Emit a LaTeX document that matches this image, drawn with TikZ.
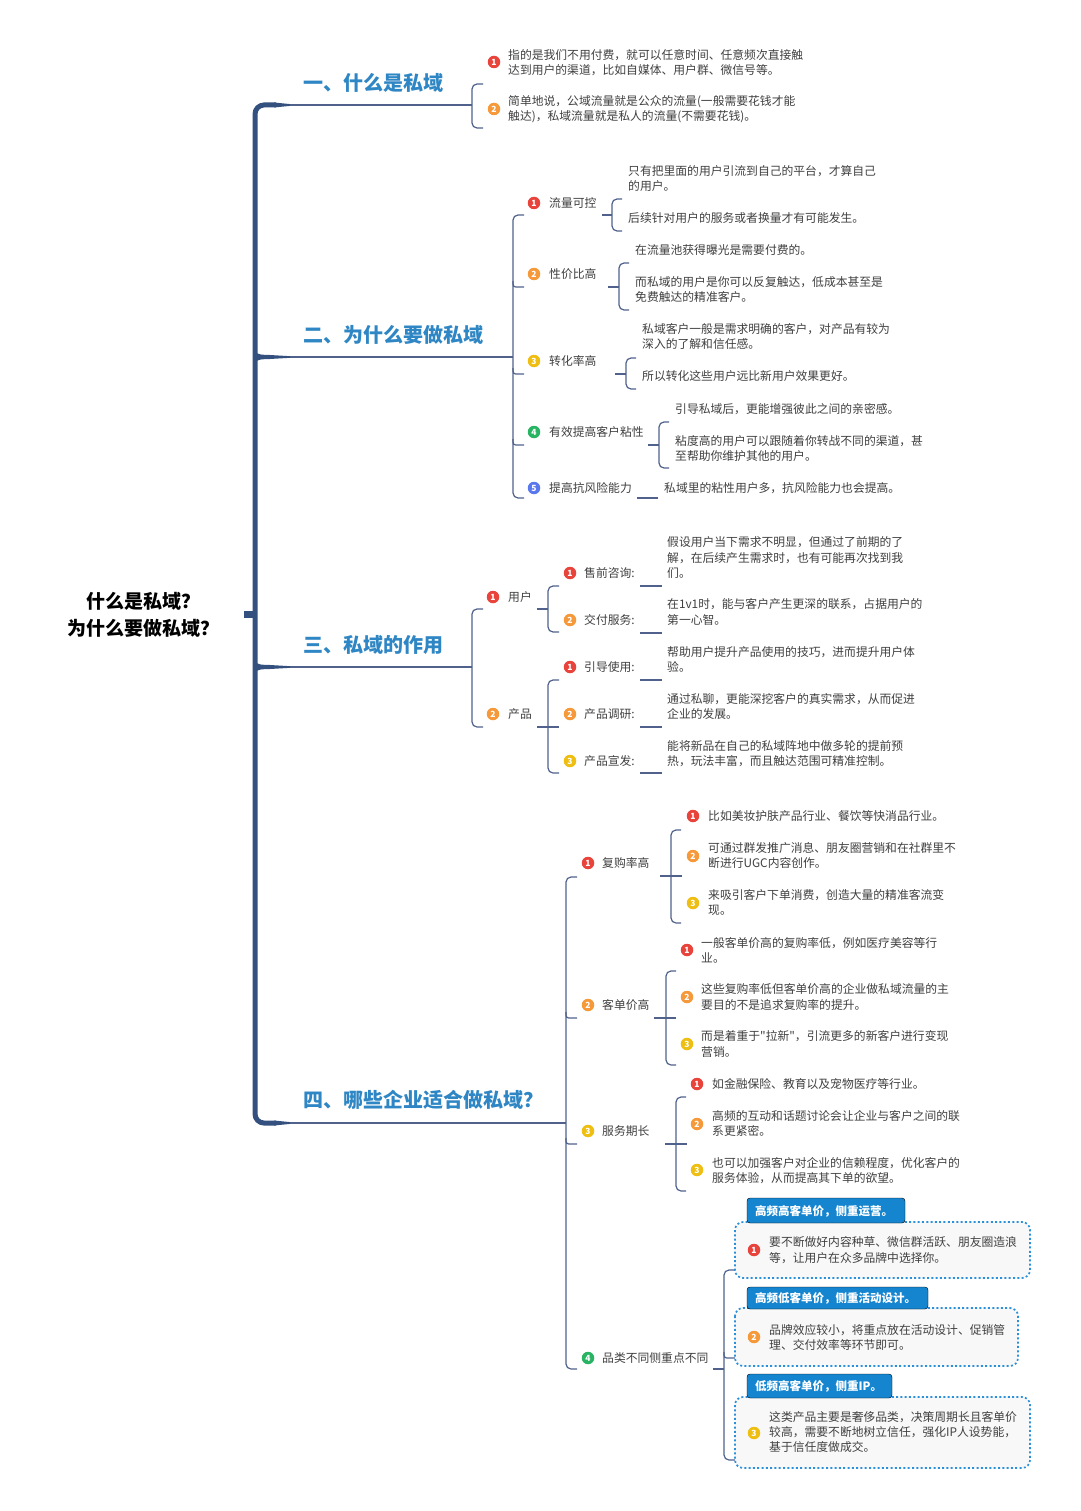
\documentclass[tikz,border=0pt]{standalone}
\usepackage{fontspec}
\setmainfont{Noto Sans CJK SC}[Ligatures=TeXOff]
\definecolor{trunkc}{HTML}{34507E}
\definecolor{linec}{HTML}{50628C}
\definecolor{headc}{HTML}{2E86C4}
\definecolor{txtc}{HTML}{404040}
\definecolor{tabc}{HTML}{1585D0}
\definecolor{boxc}{HTML}{2A90DA}
\definecolor{boxfill}{HTML}{F8F8F8}
\definecolor{mred}{HTML}{E8443C}
\definecolor{morange}{HTML}{F5993A}
\definecolor{myellow}{HTML}{EFBE12}
\definecolor{mgreen}{HTML}{28B463}
\definecolor{mblue}{HTML}{5A78EE}
\tikzset{
  trunk/.style={draw=trunkc, line width=5pt},
  bl/.style={draw=linec, line width=1.6pt},
  ln/.style={draw=linec, line width=1.2pt},
  txt/.style={inner sep=0pt, anchor=west, align=left, text=txtc, font=\fontsize{11.8}{15.3}\selectfont},
  head/.style={inner sep=0pt, anchor=west, text=headc, font=\bfseries\fontsize{20}{24}\selectfont},
  mkr/.style={circle, fill=#1, inner sep=0pt, minimum size=12.5pt, text=white, font=\bfseries\fontsize{8.5}{8.5}\selectfont},
  tabbox/.style={fill=tabc, rounded corners=3pt},
  tabtxt/.style={inner sep=0pt, anchor=west, text=white, font=\bfseries\fontsize{11.5}{14}\selectfont},
  dbox/.style={draw=boxc, fill=boxfill, line width=1.7pt, dash pattern=on 2pt off 2.3pt, rounded corners=8pt}
}
\newcommand{\brk}[4]{% x, top, bottom, hook x
  \draw[ln, rounded corners=5pt] (#4,#2) -- (#1,#2) -- (#1,#3) -- (#4,#3);}
\newcommand{\tick}[3]{% x, y, hook x
  \draw[ln] (#1,#2-6) .. controls (#1,#2) .. (#1+6,#2) -- (#3,#2);}
\begin{document}
\begin{tikzpicture}[x=1pt,y=-1pt]
\useasboundingbox (0,0) rectangle (1080,1511);
\fill[white] (0,0) rectangle (1080,1511);

% ---------- root ----------
\node[inner sep=0pt, align=center, font=\bfseries\fontsize{19}{27}\selectfont, text=black] (root) at (143,614.5) {什么是私域？\\为什么要做私域？};
\fill[trunkc] (244,611) rectangle (256,617.5);

% ---------- trunk ----------
\coordinate (T1) at (255,105);
\coordinate (T4) at (255,1123);
\draw[trunk, rounded corners=9pt] (276,105) -- (T1) -- (T4) -- (276,1123);
\fill[trunkc] (274,102.5) -- (292,104.3) -- (292,105.7) -- (274,107.5) -- cycle;
\fill[trunkc] (274,1120.5) -- (292,1122.3) -- (292,1123.7) -- (274,1125.5) -- cycle;
\fill[trunkc] (255,351) .. controls (257,355) and (262,354.8) .. (270,355) -- (292,356.3) -- (292,357.7) -- (270,359) .. controls (262,359.2) and (257,359) .. (255,363) -- cycle;
\fill[trunkc] (255,661) .. controls (257,665) and (262,664.8) .. (270,665) -- (292,666.3) -- (292,667.7) -- (270,669) .. controls (262,669.2) and (257,669) .. (255,673) -- cycle;

% main branch lines
\draw[bl] (290,105) -- (472,105);
\draw[bl] (290,357) -- (513,357);
\draw[bl] (290,667) -- (472,667);
\draw[bl] (290,1123) -- (566,1123);

% headings
\node[head] (h1) at (303,83) {一、什么是私域};
\node[head] (h2) at (303,335) {二、为什么要做私域};
\node[head] (h3) at (303,645) {三、私域的作用};
\node[head] (h4) at (303,1100) {四、哪些企业适合做私域？};

% ---------- section 1 ----------
\brk{472}{84}{128}{483}
\node[mkr=mred] (a1m) at (494,62) {1};
\node[txt] (a1) at (508,62.5) {指的是我们不用付费，就可以任意时间、任意频次直接触\\达到用户的渠道，比如自媒体、用户群、微信号等。};
\node[mkr=morange] (a2m) at (494,109) {2};
\node[txt] (a2) at (508,109.5) {简单地说，公域流量就是公众的流量(一般需要花钱才能\\触达)，私域流量就是私人的流量(不需要花钱)。};

% ---------- section 2 ----------
\brk{513}{215}{498}{524}
\tick{513}{287}{524}
\tick{513}{374}{524}
\tick{513}{445}{524}

\node[mkr=mred] (b1m) at (534,203) {1};
\node[txt] (b1) at (549,203) {流量可控};
\draw[ln] (602,215) -- (612,215);
\brk{612}{199}{231}{622}
\node[txt] (b11) at (628,178.5) {只有把里面的用户引流到自己的平台，才算自己\\的用户。};
\node[txt] (b12) at (628,218) {后续针对用户的服务或者换量才有可能发生。};

\node[mkr=morange] (b2m) at (534,274) {2};
\node[txt] (b2) at (549,274) {性价比高};
\draw[ln] (608,287) -- (619,287);
\brk{619}{263}{310}{629}
\node[txt] (b21) at (635,250) {在流量池获得曝光是需要付费的。};
\node[txt] (b22) at (635,289.5) {而私域的用户是你可以反复触达，低成本甚至是\\免费触达的精准客户。};

\node[mkr=myellow] (b3m) at (534,361) {3};
\node[txt] (b3) at (549,361) {转化率高};
\draw[ln] (615,374) -- (626,374);
\brk{626}{358}{389}{636}
\node[txt] (b31) at (642,336.5) {私域客户一般是需求明确的客户，对产品有较为\\深入的了解和信任感。};
\node[txt] (b32) at (642,376) {所以转化这些用户远比新用户效果更好。};

\node[mkr=mgreen] (b4m) at (534,432) {4};
\node[txt] (b4) at (549,432) {有效提高客户粘性};
\draw[ln] (648,445) -- (659,445);
\brk{659}{422}{468}{669}
\node[txt] (b41) at (675,409) {引导私域后，更能增强彼此之间的亲密感。};
\node[txt] (b42) at (675,448.5) {粘度高的用户可以跟随着你转战不同的渠道，甚\\至帮助你维护其他的用户。};

\node[mkr=mblue] (b5m) at (534,488) {5};
\node[txt] (b5) at (549,488) {提高抗风险能力};
\draw[ln] (637,498) -- (658,498);
\node[txt] (b51) at (664,488) {私域里的粘性用户多，抗风险能力也会提高。};

% ---------- section 3 ----------
\brk{472}{609}{727}{483}

\node[mkr=mred] (c1m) at (493,597) {1};
\node[txt] (c1) at (508,597) {用户};
\draw[ln] (537,609) -- (548,609);
\brk{548}{586}{632}{559}
\node[mkr=mred] (c11m) at (570,573) {1};
\node[txt] (c11) at (584,573) {售前咨询:};
\draw[ln] (640,586) -- (662,586);
\node[txt] (c11t) at (667,557.5) {假设用户当下需求不明显，但通过了前期的了\\解，在后续产生需求时，也有可能再次找到我\\们。};
\node[mkr=morange] (c12m) at (570,620) {2};
\node[txt] (c12) at (584,620) {交付服务:};
\draw[ln] (640,633) -- (662,633);
\node[txt] (c12t) at (667,612) {在1v1时，能与客户产生更深的联系，占据用户的\\第一心智。};

\node[mkr=morange] (c2m) at (493,714) {2};
\node[txt] (c2) at (508,714) {产品};
\draw[ln] (537,727) -- (559,727);
\brk{548}{680}{773}{559}
\node[mkr=mred] (c21m) at (570,667) {1};
\node[txt] (c21) at (584,667) {引导使用:};
\draw[ln] (640,680) -- (662,680);
\node[txt] (c21t) at (667,659.5) {帮助用户提升产品使用的技巧，进而提升用户体\\验。};
\node[mkr=morange] (c22m) at (570,714) {2};
\node[txt] (c22) at (584,714) {产品调研:};
\draw[ln] (640,727) -- (662,727);
\node[txt] (c22t) at (667,706.5) {通过私聊，更能深挖客户的真实需求，从而促进\\企业的发展。};
\node[mkr=myellow] (c23m) at (570,761) {3};
\node[txt] (c23) at (584,761) {产品宣发:};
\draw[ln] (640,773) -- (662,773);
\node[txt] (c23t) at (667,753.5) {能将新品在自己的私域阵地中做多轮的提前预\\热，玩法丰富，而且触达范围可精准控制。};

% ---------- section 4 ----------
\brk{566}{877}{1369}{577}
\tick{566}{1018}{577}
\tick{566}{1144}{577}

\node[mkr=mred] (d1m) at (588,863) {1};
\node[txt] (d1) at (602,863) {复购率高};
\draw[ln] (660,876) -- (682,876);
\brk{671}{830}{923}{681}
\node[mkr=mred] (d11m) at (693,816) {1};
\node[txt] (d11) at (708,816) {比如美妆护肤产品行业、餐饮等快消品行业。};
\node[mkr=morange] (d12m) at (693,856) {2};
\node[txt] (d12) at (708,855.5) {可通过群发推广消息、朋友圈营销和在社群里不\\断进行UGC内容创作。};
\node[mkr=myellow] (d13m) at (693,903) {3};
\node[txt] (d13) at (708,902.5) {来吸引客户下单消费，创造大量的精准客流变\\现。};

\node[mkr=morange] (d2m) at (588,1005) {2};
\node[txt] (d2) at (602,1005) {客单价高};
\draw[ln] (654,1018) -- (676,1018);
\brk{666}{971}{1065}{676}
\node[mkr=mred] (d21m) at (687,950) {1};
\node[txt] (d21) at (701,950) {一般客单价高的复购率低，例如医疗美容等行\\业。};
\node[mkr=morange] (d22m) at (687,997) {2};
\node[txt] (d22) at (701,997) {这些复购率低但客单价高的企业做私域流量的主\\要目的不是追求复购率的提升。};
\node[mkr=myellow] (d23m) at (687,1044) {3};
\node[txt] (d23) at (701,1044) {而是着重于"拉新"，引流更多的新客户进行变现\\营销。};

\node[mkr=myellow] (d3m) at (588,1131) {3};
\node[txt] (d3) at (602,1131) {服务期长};
\draw[ln] (665,1144) -- (687,1144);
\brk{676}{1097}{1191}{686}
\node[mkr=mred] (d31m) at (697,1084) {1};
\node[txt] (d31) at (712,1084) {如金融保险、教育以及宠物医疗等行业。};
\node[mkr=morange] (d32m) at (697,1124) {2};
\node[txt] (d32) at (712,1123.5) {高频的互动和话题讨论会让企业与客户之间的联\\系更紧密。};
\node[mkr=myellow] (d33m) at (697,1170) {3};
\node[txt] (d33) at (712,1170.5) {也可以加强客户对企业的信赖程度，优化客户的\\服务体验，从而提高其下单的欲望。};

\node[mkr=mgreen] (d4m) at (588,1358) {4};
\node[txt] (d4) at (602,1358) {品类不同侧重点不同};
\draw[ln] (713,1369) -- (724,1369);
\brk{724}{1270}{1460}{743}
\draw[ln] (724,1352) .. controls (724,1358) .. (730,1358) -- (743,1358);

% boxes
\draw[dbox] (735,1222) rectangle (1030,1278);
\draw[tabbox] (747,1223) -- (747,1198) -- (905,1198) -- (905,1223) -- cycle;
\node[tabtxt] (e1l) at (755,1211) {高频高客单价，侧重运营。};
\node[mkr=mred] (e1m) at (754,1250) {1};
\node[txt] (e1) at (769,1250) {要不断做好内容种草、微信群活跃、朋友圈造浪\\等，让用户在众多品牌中选择你。};

\draw[dbox] (735,1308) rectangle (1018,1366);
\draw[tabbox] (747,1309) -- (747,1287) -- (928,1287) -- (928,1309) -- cycle;
\node[tabtxt] (e2l) at (755,1298) {高频低客单价，侧重活动设计。};
\node[mkr=morange] (e2m) at (754,1337) {2};
\node[txt] (e2) at (769,1337.5) {品牌效应较小，将重点放在活动设计、促销管\\理、交付效率等环节即可。};

\draw[dbox] (735,1397) rectangle (1030,1468);
\draw[tabbox] (747,1398) -- (747,1374) -- (892,1374) -- (892,1398) -- cycle;
\node[tabtxt] (e3l) at (755,1386) {低频高客单价，侧重IP。};
\node[mkr=myellow] (e3m) at (754,1433) {3};
\node[txt] (e3) at (769,1432) {这类产品主要是奢侈品类，决策周期长且客单价\\较高，需要不断地树立信任，强化IP人设势能，\\基于信任度做成交。};
\end{tikzpicture}
\end{document}
